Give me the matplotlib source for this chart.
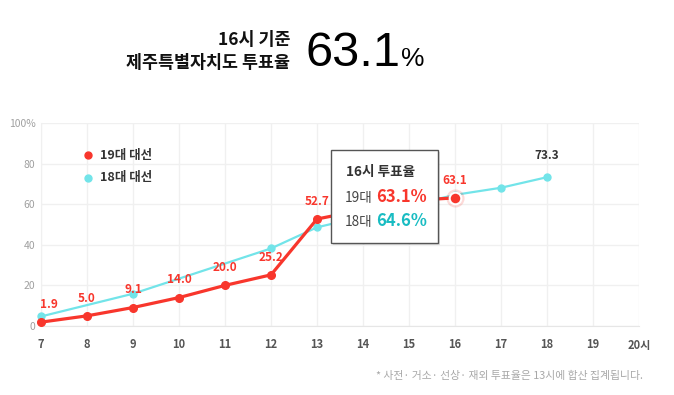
import matplotlib
matplotlib.use("Agg")
import matplotlib.pyplot as plt
from matplotlib.patches import Rectangle

plt.rcParams['font.family'] = ['Noto Sans CJK KR', 'DejaVu Sans']

# data
hours = [7, 8, 9, 10, 11, 12, 13, 14, 15, 16]
vote19 = [1.9, 5.0, 9.1, 14.0, 20.0, 25.2, 52.7, 57.2, 61.8, 63.1]
labels19 = ['1.9', '5.0', '9.1', '14.0', '20.0', '25.2', '52.7', '', '', '63.1']
hours18 = [7, 9, 12, 13, 16, 17, 18]
vote18 = [4.7, 15.9, 38.2, 48.6, 64.6, 68.1, 73.3]
xticks = list(range(7, 21))
xticklabels = [str(h) for h in range(7, 20)] + ['20시']
yticks = [0, 20, 40, 60, 80, 100]
yticklabels = ['0', '20', '40', '60', '80', '100%']

RED = '#f8362c'
CYAN = '#72e4e9'
TEAL = '#18bcc2'

W, H = 674, 395
fig = plt.figure(figsize=(W / 100, H / 100), dpi=100)
fig.patch.set_facecolor('white')

def fx(px):
    return px / W

def fy(py):
    return (H - py) / H

ax = fig.add_axes([fx(41), fy(326), fx(639) - fx(41), fy(123) - fy(326)])
ax.set_xlim(7, 20)
ax.set_ylim(0, 100)
ax.set_xticks(xticks)
ax.set_xticklabels(xticklabels, fontsize=8, fontweight='bold', color='#555555')
ax.set_yticks(yticks)
ax.set_yticklabels(yticklabels, fontsize=7.5, color='#a0a0a0')
ax.tick_params(length=0)
ax.tick_params(axis='x', pad=9)
ax.tick_params(axis='y', pad=4)
ax.grid(True, color='#f0f0f0', linewidth=1)
ax.set_axisbelow(True)
for s in ['top', 'right']:
    ax.spines[s].set_visible(False)
ax.spines['bottom'].set_color('#e6e6e6')
ax.spines['left'].set_color('#f0f0f0')

# 18대 line
ax.plot(hours18, vote18, color=CYAN, linewidth=1.6, marker='o', markersize=5,
        zorder=3, clip_on=False)
ax.annotate('73.3', (hours18[-1], vote18[-1]), xytext=(0, 11),
            textcoords='offset points', ha='center', va='bottom',
            fontsize=8.5, fontweight='bold', color='#333333')

# 19대 line
ax.plot(hours, vote19, color=RED, linewidth=2.3, zorder=4, clip_on=False)
ax.plot(hours[:-1], vote19[:-1], linestyle='none', marker='o', markersize=5.5,
        color=RED, zorder=5, clip_on=False)
for i, (h, v, lab) in enumerate(zip(hours, vote19, labels19)):
    if not lab:
        continue
    dx = 6 if i == 0 else 0
    ax.annotate(lab, (h, v), xytext=(dx, 8), textcoords='offset points',
                ha='center', va='bottom', fontsize=8.5, fontweight='bold', color=RED)

# highlighted point
ax.scatter([hours[-1]], [vote19[-1]], s=170, color=RED, alpha=0.18, zorder=6, linewidths=0)
ax.scatter([hours[-1]], [vote19[-1]], s=70, color=RED, edgecolors='white',
           linewidths=1.5, zorder=7)

# legend
fig.add_artist(plt.Line2D([fx(88)], [fy(155)], marker='o', markersize=5, color=RED,
                          linestyle='none', transform=fig.transFigure))
fig.add_artist(plt.Line2D([fx(88)], [fy(178)], marker='o', markersize=5, color=CYAN,
                          linestyle='none', transform=fig.transFigure))
fig.text(fx(100), fy(155), '19대 대선', fontsize=9, fontweight='bold', color='#333333', va='center')
fig.text(fx(100), fy(178), '18대 대선', fontsize=9, fontweight='bold', color='#333333', va='center')

# tooltip
shadow = Rectangle((fx(333), fy(245)), fx(438) - fx(331), fy(150) - fy(243),
                   transform=fig.transFigure, facecolor='#000000', alpha=0.12,
                   edgecolor='none', zorder=9)
fig.add_artist(shadow)
box = Rectangle((fx(331), fy(243)), fx(438) - fx(331), fy(150) - fy(243),
                transform=fig.transFigure, facecolor='white', edgecolor='#555555',
                linewidth=1, zorder=10)
fig.add_artist(box)
fig.text(fx(346), fy(172), '16시 투표율', fontsize=9.8, fontweight='bold', color='#333333',
         va='center', zorder=11)
fig.text(fx(345), fy(198), '19대', fontsize=9.8, color='#444444', va='center', zorder=11)
fig.text(fx(376), fy(197), '63.1%', fontsize=12, fontweight='bold', color=RED, va='center', zorder=11)
fig.text(fx(345), fy(222), '18대', fontsize=9.8, color='#444444', va='center', zorder=11)
fig.text(fx(376), fy(221), '64.6%', fontsize=12, fontweight='bold', color=TEAL, va='center', zorder=11)

# header
fig.text(fx(290), fy(40), '16시 기준', fontsize=12.5, fontweight='bold', color='#111111',
         ha='right', va='center')
fig.text(fx(290), fy(63), '제주특별자치도 투표율', fontsize=12.5, fontweight='bold', color='#111111',
         ha='right', va='center')
fig.text(fx(305), fy(66), '63.1', fontsize=35, color='#000000', family='Liberation Sans',
         ha='left', va='baseline')
fig.text(fx(401), fy(66), '%', fontsize=19, color='#000000', family='Liberation Sans',
         ha='left', va='baseline')

# footnote
fig.text(fx(643), fy(376), '* 사전· 거소· 선상· 재외 투표율은 13시에 합산 집계됩니다.',
         fontsize=7.8, color='#a8a8a8', ha='right', va='center')

fig.savefig('out.png', dpi=100)
